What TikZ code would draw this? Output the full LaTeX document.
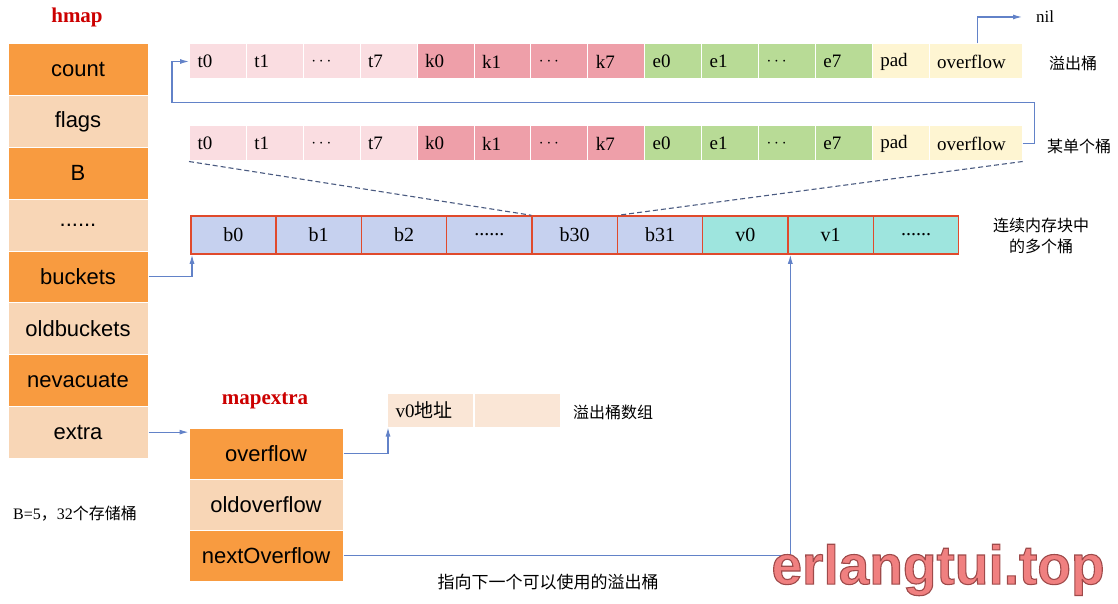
\documentclass[tikz,border=0pt]{standalone}
\usepackage{fontspec}
\setmainfont{Liberation Serif}
\setsansfont{Liberation Sans}
\newfontfamily\cjk{Noto Sans CJK SC}
\newfontfamily\markfont[FakeBold=2]{Liberation Sans Bold}
\usetikzlibrary{arrows.meta, positioning, calc}
\definecolor{corange}{HTML}{F89B40}
\definecolor{cpeach}{HTML}{F8D6B6}
\definecolor{ctag}{HTML}{FADDE1}
\definecolor{ckey}{HTML}{EE9FA9}
\definecolor{celem}{HTML}{B8DB96}
\definecolor{cpad}{HTML}{FEF5D2}
\definecolor{carr}{HTML}{C6D1EF}
\definecolor{cval}{HTML}{9EE5DE}
\definecolor{cedge}{HTML}{E04A2C}
\definecolor{caddr}{HTML}{FAE6D6}
\definecolor{cptr}{HTML}{6282C8}
\definecolor{cguide}{HTML}{4A5A80}
\definecolor{cred}{HTML}{CC0000}
\definecolor{cmark}{HTML}{F08080}
\tikzset{
  field/.style={fill=#1, draw=white, line width=1pt, minimum width=140pt, minimum height=51.75pt, inner sep=0pt, font=\sffamily\fontsize{22}{24}\selectfont},
  field/.default=corange,
  slot/.style={fill=#1, draw=white, line width=1pt, text width=41pt, inner xsep=8pt, inner ysep=0pt, minimum height=35pt, align=left, anchor=west, font=\fontsize{19}{21}\selectfont},
  cellbox/.style={fill=#1, draw=cedge, line width=1.5pt, minimum width=85.33pt, minimum height=38pt, inner sep=0pt, anchor=west, font=\fontsize{20}{22}\selectfont},
  ptr/.style={-{Latex[length=9pt,width=5pt]}, draw=cptr, line width=1.1pt},
  guide/.style={dash pattern=on 5pt off 3pt, draw=cguide, line width=1.1pt},
  tag/.style={font=\bfseries\fontsize{21}{23}\selectfont, text=cred},
  note/.style={font=\cjk\fontsize{16}{21}\selectfont, align=center},
  stamp/.style={font=\markfont\fontsize{55}{60}\selectfont, text=cmark},
}
\begin{document}
\begin{tikzpicture}[x=1pt, y=-1pt]
  \useasboundingbox (0,0) rectangle (1118,604);
  % hmap struct
  \node[tag] (hmap) at (77,17) {hmap};
  \foreach \lbl/\col [count=\i] in {count/corange, flags/cpeach, B/corange, {......}/cpeach, buckets/corange, oldbuckets/cpeach, nevacuate/corange, extra/cpeach}
    \node[field=\col] (h\i) at (78, {44+51.75*(\i-0.5)}) {\lbl};
  \node[note, font=\fontsize{16}{21}\selectfont] (bnote) at (75,514) {B=5{\cjk ，}32{\cjk 个存储桶}};

  % overflow bucket and single bucket
  \foreach \row/\y in {top/61.5, bot/143.5} {
    \foreach \lbl/\col [count=\i] in {t0/ctag, t1/ctag, {$\cdots$}/ctag, t7/ctag, k0/ckey, k1/ckey, {$\cdots$}/ckey, k7/ckey, e0/celem, e1/celem, {$\cdots$}/celem, e7/celem, pad/cpad}
      \node[slot=\col] (\row-\i) at ({189+56.9*(\i-1)}, \y) {\lbl};
    \node[slot=cpad, text width=77pt] (\row-ovf) at (928.7, \y) {overflow};
  }
  \node[note] (lovf) at (1073,63) {溢出桶};
  \node[note] (lone) at (1079,146) {某单个桶};
  \node[anchor=west, inner sep=0pt, font=\fontsize{17}{19}\selectfont] (nil) at (1036,17) {nil};

  % bucket array
  \foreach \lbl/\col [count=\i] in {b0/carr, b1/carr, b2/carr, {......}/carr, b30/carr, b31/carr, v0/cval, v1/cval, {......}/cval}
    \node[cellbox=\col] (a\i) at ({190+85.33*(\i-1)}, 235) {\lbl};
  \node[note] (larr) at (1041,236) {连续内存块中\\的多个桶};

  % mapextra struct
  \node[tag] (mapextra) at (265,401) {mapextra};
  \foreach \lbl/\col [count=\i] in {overflow/corange, oldoverflow/cpeach, nextOverflow/corange}
    \node[field=\col, minimum width=154pt, minimum height=51pt] (m\i) at (266, {428+51*(\i-0.5)}) {\lbl};
  \node[slot=caddr, text width=70pt, minimum height=34pt] (o1) at (387,410) {v0{\cjk 地址}};
  \node[slot=caddr, text width=70pt, minimum height=34pt] (o2) at (o1.east) {};
  \node[note] (laddr) at (613,412) {溢出桶数组};
  \node[note, font=\cjk\fontsize{17}{21}\selectfont] (lnext) at (548,582) {指向下一个可以使用的溢出桶};

  % pointers
  \draw[ptr] (h5.east) -| ([xshift=2pt]a1.south west);
  \draw[ptr] (h8.east) -- (h8.east -| m1.west);
  \draw[ptr] (m1.east) -| ([xshift=1pt]o1.south west);
  \draw[ptr] (m3.east) -| ([xshift=3pt]a8.south west);
  \draw[ptr] (bot-ovf.east) -- ++(12,0) -- ++(0,-41) -| ([xshift=-17pt]top-1.west) -- (top-1.west);
  \draw[ptr] ([xshift=2pt]top-ovf.north) |- ([xshift=-14pt]nil.west);
  \draw[guide] (bot-1.south west) -- (a5.north west);
  \draw[guide] (bot-ovf.south east) -- (a5.north east);

  % watermark: stroke colour set apart from fill
  \node[stamp] (wm) at (938,570) {\special{pdf:literal 0.62 0.29 0.29 RG}erlangtui.top};
\end{tikzpicture}
\end{document}
